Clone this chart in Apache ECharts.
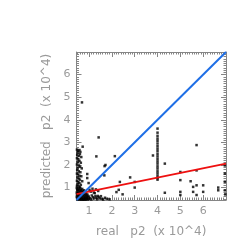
<!DOCTYPE html>
<html><head><meta charset="utf-8">
<script src="https://cdn.jsdelivr.net/npm/echarts@6/dist/echarts.min.js"></script>
<style>html,body{margin:0;padding:0;background:#fff}#c{width:249px;height:249px}</style>
</head><body><div id="c"></div>
<script>
var xTickLabels = [1, 2, 3, 4, 5, 6];
var yTickLabels = [1, 2, 3, 4, 5, 6];
var axisMin = 0.45, axisMax = 7;
var points = [
[0.47,2.68],[0.52,2.62],[0.58,2.66],[0.5,2.55],[0.62,2.58],[0.48,2.45],[0.55,2.4],[0.6,2.48],[0.66,2.35],[0.47,2.3],[0.53,2.25],[0.58,2.18],[0.5,2.12],[0.64,2.1],[0.47,2.02],[0.56,1.98],[0.61,1.92],[0.5,1.88],[0.68,1.85],[0.48,1.78],[0.55,1.72],[0.62,1.68],[0.47,1.62],[0.52,1.58],[0.58,1.52],[0.66,1.5],[0.49,1.45],[0.55,1.4],[0.6,1.35],[0.47,1.3],[0.53,1.25],[0.7,1.28],[0.58,1.2],[0.5,1.15],[0.64,1.12],[0.47,1.08],[0.55,1.05],[0.6,1.02],[0.72,2.81],[0.69,4.77],
[0.46,0.98],[0.5,0.95],[0.55,0.92],[0.6,0.96],[0.65,0.9],[0.7,0.94],[0.48,0.88],[0.53,0.85],[0.58,0.82],[0.63,0.86],[0.68,0.8],[0.73,0.84],[0.78,0.88],[0.46,0.78],[0.51,0.75],[0.56,0.72],[0.61,0.76],[0.66,0.7],[0.71,0.74],[0.76,0.68],[0.81,0.72],[0.86,0.78],[0.47,0.68],[0.52,0.65],[0.57,0.62],[0.62,0.66],[0.67,0.6],[0.72,0.64],[0.77,0.58],[0.82,0.62],[0.87,0.66],[0.92,0.7],[0.46,0.58],[0.5,0.55],[0.55,0.52],[0.6,0.56],[0.65,0.5],[0.7,0.54],[0.75,0.5],[0.8,0.53],[0.85,0.56],[0.9,0.6],[0.95,0.64],[0.48,0.48],[0.53,0.47],[0.58,0.49],[0.63,0.46],[0.68,0.48],[0.73,0.46],[0.78,0.47],[0.83,0.49],[0.88,0.52],[0.93,0.55],[0.98,0.58],[1.0,0.5],[1.05,0.53],[1.1,0.47],[0.95,0.47],[0.9,0.5],[0.85,0.46],
[0.92,1.6],[0.92,1.42],[0.98,1.2],[1.02,0.9],[1.08,0.82],[1.12,0.65],[1.18,0.58],[1.22,0.52],[1.28,0.62],[1.32,0.55],[1.35,0.48],[1.3,0.92],[1.4,0.85],[1.42,0.58],[1.48,0.52],[1.52,0.62],[1.58,0.5],[1.62,0.47],[1.7,0.55],[1.8,0.5],[1.9,0.48],[1.25,0.75],[1.15,0.95],[1.21,0.78],[1.38,0.63],
[1.42,3.22],[1.32,2.38],[2.13,2.39],[1.72,2.0],[1.68,1.95],[1.67,1.54],[2.35,1.25],[2.3,0.9],[2.2,0.8],[2.47,0.7],[2.8,1.45],[3.0,1.25],[3.0,1.0],[3.8,2.42],[4.32,2.06],[4.32,0.77],[5.0,1.69],[5.0,1.33],[5.0,0.81],[5.0,0.67],[5.45,1.28],[5.56,1.03],[5.56,0.81],[5.71,2.88],[5.71,1.76],[5.71,1.1],[5.71,0.67],[6.0,1.1],[6.0,0.81],[6.66,1.0],[6.66,0.88],[6.95,1.98],[6.95,1.62],[6.95,1.26],[6.95,0.88],[6.97,0.7],
[4.0,3.61],[4.0,3.43],[4.0,3.29],[4.0,3.17],[4.0,3.07],[4.0,2.95],[4.0,2.83],[4.0,2.72],[4.0,2.61],[4.0,2.49],[4.0,2.38],[4.0,2.27],[4.0,2.16],[4.0,2.06],[4.0,1.94],[4.0,1.84],[4.0,1.72],[4.0,1.62],[4.0,1.51],[4.0,1.42],[4.0,1.35]
];
var identityLine = [[0.45,0.45],[7,7]];
var fitLine = [[0.45,0.71],[7,2.06]];

var minorVals = [];
for (var v = 0.5; v <= 7.0001; v += 0.1) minorVals.push(Math.round(v*10)/10);
var gray = '#858585';
var txt = '#9a9a9a';
var font = 'DejaVu Sans';
function axis(pos, labels, name, gap) {
  return {
    type: 'value', position: pos, min: axisMin, max: axisMax,
    axisLine: {show: true, lineStyle: {color: gray, width: 1}},
    splitLine: {show: false},
    axisTick: {show: true, inside: true, length: 5, customValues: xTickLabels, lineStyle: {color: gray}},
    axisLabel: labels ? {show: true, customValues: labels, color: txt, fontSize: 11, fontFamily: font, margin: 6, formatter: function(v){return String(Math.round(v));}} : {show: false},
    name: name || '', nameLocation: 'middle', nameGap: gap || 0,
    nameTextStyle: {color: txt, fontSize: 12, fontFamily: font}
  };
}
function minorAxis(pos) {
  return {
    type: 'value', position: pos, min: axisMin, max: axisMax,
    axisLine: {show: false}, splitLine: {show: false}, axisLabel: {show: false},
    axisTick: {show: true, inside: true, length: 2.5, customValues: minorVals, lineStyle: {color: gray}}
  };
}
var chart = echarts.init(document.getElementById('c'), null, {renderer: 'canvas'});
chart.setOption({
  animation: false,
  grid: {left: 76.5, right: 23, top: 52, bottom: 49, containLabel: false},
  xAxis: [
    axis('bottom', xTickLabels, 'real   p2  (x 10^4)', 26),
    minorAxis('bottom'),
    axis('top', null),
    minorAxis('top')
  ],
  yAxis: [
    axis('left', yTickLabels, 'predicted   p2  (x 10^4)', 18),
    minorAxis('left'),
    axis('right', null),
    minorAxis('right')
  ],
  series: [
    {type: 'scatter', data: points, symbol: 'rect', symbolSize: 2.5, itemStyle: {color: '#000'}, xAxisIndex: 0, yAxisIndex: 0},
    {type: 'line', data: fitLine, symbol: 'none', lineStyle: {color: '#ee1010', width: 2}, xAxisIndex: 0, yAxisIndex: 0},
    {type: 'line', data: identityLine, symbol: 'none', lineStyle: {color: '#1f6fe6', width: 2}, xAxisIndex: 0, yAxisIndex: 0}
  ]
});
</script></body></html>
